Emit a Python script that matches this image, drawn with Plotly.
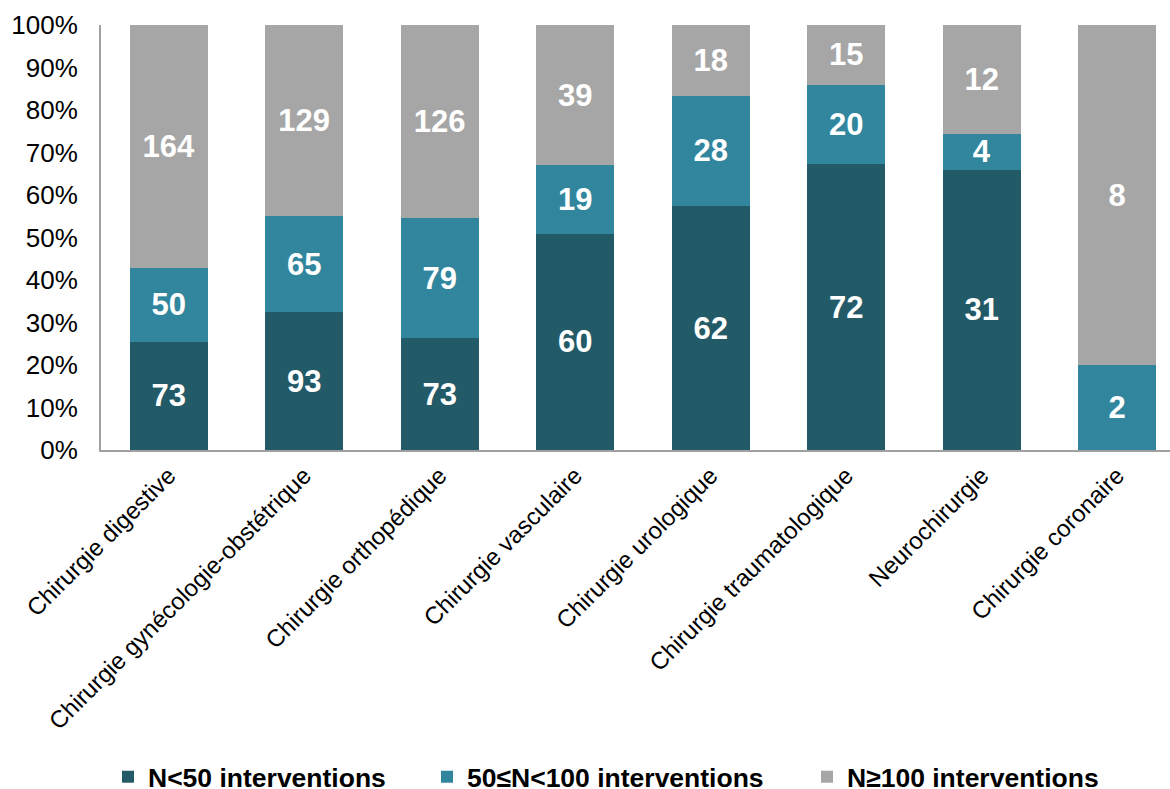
import plotly.graph_objects as go

categories = ["Chirurgie digestive", "Chirurgie gynécologie-obstétrique", "Chirurgie orthopédique",
              "Chirurgie vasculaire", "Chirurgie urologique", "Chirurgie traumatologique",
              "Neurochirurgie", "Chirurgie coronaire"]
n_lt50 = [73, 93, 73, 60, 62, 72, 31, 0]
n_50_100 = [50, 65, 79, 19, 28, 20, 4, 2]
n_ge100 = [164, 129, 126, 39, 18, 15, 12, 8]
series_names = ["N<50 interventions", "50≤N<100 interventions", "N≥100 interventions"]
colors = ["#235A68", "#31869E", "#A6A6A6"]
tick_vals = [0, 10, 20, 30, 40, 50, 60, 70, 80, 90, 100]
tick_text = [f"{v}%" for v in tick_vals]

FONT = "Arial, Liberation Sans, sans-serif"
W, H = 1170, 789

fig = go.Figure()
legend_ids = ["legend", "legend2", "legend3"]
legend_x = [108, 427, 807]
for i, (name, vals) in enumerate(zip(series_names, [n_lt50, n_50_100, n_ge100])):
    fig.add_trace(go.Bar(
        x=categories, y=vals, name=name,
        marker=dict(color=colors[i], line=dict(width=0)),
        text=[str(v) if v else "" for v in vals],
        texttemplate="%{text}",
        textposition="inside", insidetextanchor="middle", textangle=0,
        textfont=dict(family=FONT, size=31, color="white", weight="bold"),
        legend=legend_ids[i],
        hoverinfo="skip",
    ))

layout_legends = {}
for i, lid in enumerate(legend_ids):
    layout_legends[lid] = dict(
        xref="container", yref="container",
        x=legend_x[i] / W, y=1 - 777 / H, xanchor="left", yanchor="middle",
        orientation="h", font=dict(family=FONT, size=26.5, color="black", weight="bold"),
        bgcolor="rgba(0,0,0,0)", itemclick=False, visible=True,
        entrywidth=320, entrywidthmode="pixels",
    )

fig.update_layout(
    barmode="stack", barnorm="percent", bargap=0.424,
    width=W, height=H,
    margin=dict(l=101, r=0, t=25, b=339),
    plot_bgcolor="white", paper_bgcolor="white",
    font=dict(family=FONT, size=24, color="black"),
    uniformtext=dict(minsize=31, mode="show"),
    showlegend=True,
    **layout_legends,
)
fig.update_xaxes(
    range=[-0.5, 7.39], tickangle=-45, showgrid=False,
    showline=True, linecolor="#A0A0A0", linewidth=2,
    ticks="", ticklabelstandoff=0,
    tickfont=dict(family=FONT, size=24, color="black"),
)
fig.update_yaxes(
    range=[0, 100], tickmode="array", tickvals=tick_vals, ticktext=tick_text, showgrid=False,
    showline=True, linecolor="#A0A0A0", linewidth=2,
    ticks="", ticklabelstandoff=16,
    tickfont=dict(family=FONT, size=26, color="black"),
)

fig.write_html("out.html", config={"displayModeBar": False},
               post_script="document.body.style.margin='0';document.body.style.padding='0';")
